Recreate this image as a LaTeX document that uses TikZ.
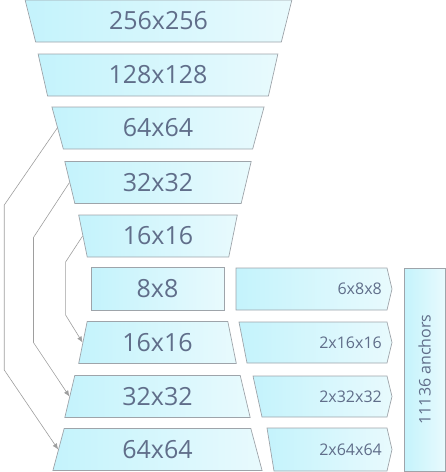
\documentclass[tikz,border=0pt]{standalone}
\usepackage{fontspec}
\setmainfont{Open Sans}
\usetikzlibrary{positioning}
\usetikzlibrary{shapes.geometric}
\usetikzlibrary{arrows.meta}
\definecolor{boxedge}{RGB}{158,164,170}
\definecolor{cyanleft}{RGB}{196,243,252}
\definecolor{cyanright}{RGB}{232,250,253}
\definecolor{labelcol}{RGB}{96,110,138}
\definecolor{skipcol}{RGB}{158,158,158}

\begin{document}
\begin{tikzpicture}[x=1pt, y=-1pt,
		shadebox/.style={draw=boxedge, line width=0.7pt, left color=cyanleft, right color=cyanright},
		box/.style={shadebox, text=labelcol, inner sep=0pt, minimum height=42pt, font=\fontsize{25}{30}\selectfont},
		downbox/.style={box, trapezium, trapezium stretches=true, trapezium angle=77, shape border rotate=180},
		upbox/.style={box, trapezium, trapezium stretches=true, trapezium angle=77},
		outlbl/.style={text=labelcol, inner sep=0pt, anchor=east, font=\fontsize{16}{19}\selectfont},
		skip/.style={draw=skipcol, line width=0.6pt, -{Latex[length=6pt,width=5pt]}}]
	\useasboundingbox (0,0) rectangle (446,472);

	\node[downbox, minimum width=267pt] (r1) at (158.5, 21) {256x256};
	\node[downbox, minimum width=240pt] (r2) at (158, 75) {128x128};
	\node[downbox, minimum width=214pt] (r3) at (158, 128) {64x64};
	\node[downbox, minimum width=188pt] (r4) at (158, 182.5) {32x32};
	\node[downbox, minimum width=160pt] (r5) at (158, 236) {16x16};
	\node[box, minimum width=133pt, minimum height=43pt] (r6) at (157.5, 288.5) {8x8};
	\node[upbox, minimum width=159pt] (r7) at (157.5, 342.5) {16x16};
	\node[upbox, minimum width=187pt] (r8) at (157.5, 396.5) {32x32};
	\node[upbox, minimum width=211pt] (r9) at (157.5, 449.5) {64x64};

	\path[shadebox] (236,268) -- (387,268) -- (392,289) -- (387,310) -- (236,310) -- cycle;
	\path[shadebox] (239,322) -- (387,322) -- (392,342.5) -- (387,363) -- (247,363) -- cycle;
	\path[shadebox] (253,376) -- (387,376) -- (392,396.5) -- (387,417) -- (262,417) -- cycle;
	\path[shadebox] (267,428) -- (387,428) -- (392,449.5) -- (387,471) -- (274,471) -- cycle;
	\node[outlbl] (o6) at (382, 289) {6x8x8};
	\node[outlbl] (o7) at (382, 342.5) {2x16x16};
	\node[outlbl] (o8) at (382, 396.5) {2x32x32};
	\node[outlbl] (o9) at (382, 449.5) {2x64x64};

	\node[box, minimum width=41pt, minimum height=203pt] (anch) at (424.5, 369.5) {};
	\node[rotate=90, text=labelcol, inner sep=0pt, font=\fontsize{16}{19}\selectfont] (total) at (anch) {11136 anchors};

	\draw[skip] (r3.west) -- ++(-53,77) -- ++(0,165) -- (r9.west);
	\draw[skip] (r4.west) -- ++(-36,55) -- ++(0,105) -- (r8.west);
	\draw[skip] (r5.west) -- ++(-17,26) -- ++(0,53) -- (r7.west);
\end{tikzpicture}
\end{document}
